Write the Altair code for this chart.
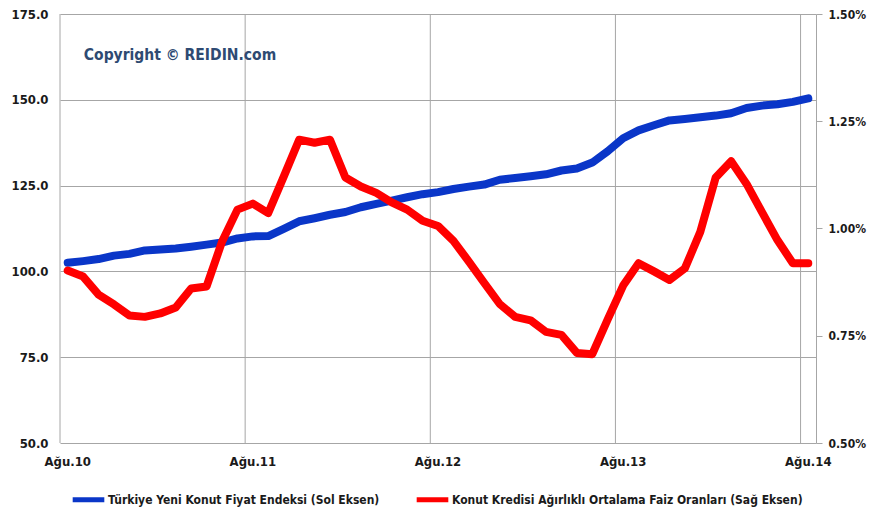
import altair as alt
import pandas as pd

FONT = "DejaVu Sans Condensed, Liberation Sans Narrow, Arial Narrow, sans-serif"

# --- data --------------------------------------------------------------
month_names = ["Oca", "Şub", "Mar", "Nis", "May", "Haz", "Tem", "Ağu", "Eyl", "Eki", "Kas", "Ara"]
# 49 monthly periods, Ağu.10 ... Ağu.14
periods = [f"{month_names[(7 + k) % 12]}.{10 + (7 + k) // 12}" for k in range(49)]
label_idx = [0, 12, 24, 36, 48]

series_names = [
    "Türkiye Yeni Konut Fiyat Endeksi (Sol Eksen)",
    "Konut Kredisi Ağırlıklı Ortalama Faiz Oranları (Sağ Eksen)",
]
series_colors = ["#0A36C8", "#FF0000"]

price_index = [
    102.5, 103.0, 103.6, 104.6, 105.1, 106.1, 106.4, 106.7, 107.2, 107.8,
    108.4, 109.6, 110.2, 110.3, 112.4, 114.6, 115.5, 116.5, 117.3, 118.7,
    119.7, 120.6, 121.6, 122.5, 123.1, 124.0, 124.7, 125.3, 126.7, 127.2,
    127.7, 128.3, 129.4, 130.0, 131.7, 135.0, 138.8, 141.1, 142.6, 144.0,
    144.4, 144.9, 145.4, 146.1, 147.6, 148.3, 148.7, 149.4, 150.4,
]
# monthly weighted average mortgage rate, in percent
rate_pct = [
    0.902, 0.888, 0.846, 0.823, 0.797, 0.794, 0.802, 0.816, 0.860, 0.865,
    0.969, 1.044, 1.058, 1.036, 1.121, 1.207, 1.200, 1.207, 1.119, 1.098,
    1.083, 1.061, 1.044, 1.018, 1.006, 0.971, 0.923, 0.873, 0.824, 0.794,
    0.786, 0.759, 0.752, 0.710, 0.707, 0.788, 0.867, 0.919, 0.900, 0.880,
    0.907, 0.992, 1.119, 1.157, 1.104, 1.038, 0.973, 0.919, 0.919,
]

left_ticks = [50, 75, 100, 125, 150, 175]
right_ticks_pct = [0.50, 0.75, 1.00, 1.25, 1.50]
copyright_text = "Copyright © REIDIN.com"

df = pd.DataFrame({
    "idx": list(range(len(periods))),
    "period": periods,
    "endeks": price_index,
    "faiz": [r / 100 for r in rate_pct],
})
df_blue = df.assign(series=series_names[0])
df_red = df.assign(series=series_names[1])
# year boundaries (category edges left of each labelled month) + the label for that month
bounds = pd.DataFrame({"b": [i - 0.5 for i in label_idx], "lab": [periods[i] for i in label_idx]})

GRID = "#A6A6A6"
TXT = "#1a1a1a"
x_scale = alt.Scale(domain=[-0.5, len(periods) - 0.5], nice=False, zero=False)
color_scale = alt.Scale(domain=series_names, range=series_colors)
legend = alt.Legend(
    orient="none", legendX=10, legendY=467, direction="horizontal", title=None,
    symbolType="stroke", symbolStrokeWidth=5, symbolSize=1000,
    labelFont=FONT, labelFontSize=12, labelFontWeight="bold", labelColor=TXT,
    columnPadding=26, labelOffset=1, labelLimit=400,
)

vgrid = alt.Chart(bounds).mark_rule(color=GRID, strokeWidth=1).encode(
    x=alt.X("b:Q", scale=x_scale, axis=None)
)

# x-axis labels: text under each labelled month, anchored below the plot
xlabels = alt.Chart(bounds).mark_text(
    font=FONT, fontSize=13, fontWeight="bold", color=TXT, baseline="top", align="center", dy=13
).encode(
    x=alt.X("xc:Q", scale=x_scale, axis=None),
    y=alt.value(429),
    text="lab:N",
).transform_calculate(xc="datum.b + 0.5")

blue = alt.Chart(df_blue).mark_line(strokeWidth=8, strokeCap="round", strokeJoin="round").encode(
    x=alt.X("idx:Q", scale=x_scale, axis=None),
    y=alt.Y("endeks:Q", scale=alt.Scale(domain=[50, 175], nice=False, zero=False),
            axis=alt.Axis(values=left_ticks, format=".1f", grid=True, gridColor=GRID,
                          domain=False, ticks=False, tickSize=0, labelPadding=12,
                          title=None, orient="left", labelFontSize=13)),
    color=alt.Color("series:N", scale=color_scale, legend=legend),
)

red = alt.Chart(df_red).mark_line(strokeWidth=8, strokeCap="round", strokeJoin="round").encode(
    x=alt.X("idx:Q", scale=x_scale, axis=None),
    y=alt.Y("faiz:Q", scale=alt.Scale(domain=[0.005, 0.015], nice=False, zero=False),
            axis=alt.Axis(values=[v / 100 for v in right_ticks_pct], format=".2%",
                          grid=False, domain=True, domainColor=GRID, ticks=True,
                          tickColor=GRID, tickSize=6, labelPadding=6, title=None,
                          orient="right", labelFontSize=12)),
    color=alt.Color("series:N", scale=color_scale, legend=legend),
)

note = alt.Chart(pd.DataFrame({"t": [copyright_text]})).mark_text(
    font=FONT, fontSize=15.5, fontWeight="bold", color="#2E4A72", baseline="middle", align="center"
).encode(text="t:N", x=alt.value(120), y=alt.value(41))

chart = (
    alt.layer(vgrid, blue, red, xlabels, note)
    .resolve_scale(y="independent")
    .properties(
        width=756, height=429,
        autosize=alt.AutoSizeParams(type="none"),
        padding={"left": 52, "top": 6, "right": 51, "bottom": 66},
    )
    .configure_view(stroke=None)
    .configure_axis(labelFont=FONT, labelFontWeight="bold", labelColor=TXT)
)

chart.save("out.html", embed_options={"renderer": "svg", "actions": False})
